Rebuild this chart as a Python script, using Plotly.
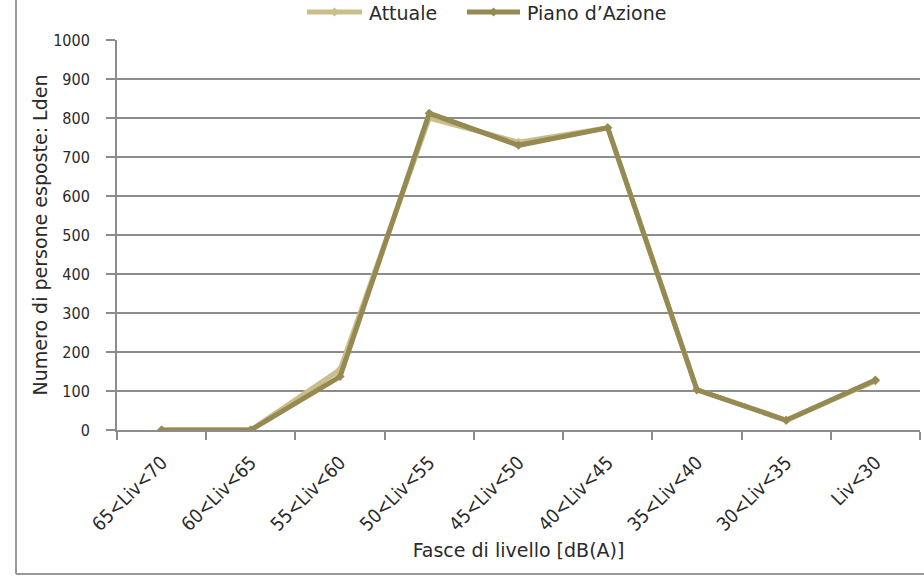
import plotly.graph_objects as go

categories = ["65<Liv<70", "60<Liv<65", "55<Liv<60", "50<Liv<55", "45<Liv<50",
              "40<Liv<45", "35<Liv<40", "30<Liv<35", "Liv<30"]
attuale = [0, 0, 155, 800, 738, 775, 103, 25, 126]
piano = [0, 0, 137, 812, 730, 775, 103, 25, 128]
series_names = ["Attuale", "Piano d\u2019Azione"]
series_colors = ["#c9bf8c", "#958a52"]

W, H = 924, 576
ml, mr, mt, mb = 117, 4, 40, 146
pw = W - ml - mr
ph = H - mt - mb


def px_x(p):
    return (p - ml) / pw


def px_y(p):
    return (H - mb - p) / ph


fig = go.Figure()
for name, vals, col in zip(series_names, [attuale, piano], series_colors):
    fig.add_trace(go.Scatter(x=categories, y=vals, name=name, mode="lines+markers",
                             line=dict(color=col, width=5),
                             marker=dict(symbol="diamond", size=7, color=col),
                             showlegend=False))

# outer frame (left and bottom)
fig.add_shape(type="line", xref="paper", yref="paper",
              x0=px_x(16), x1=px_x(16), y0=px_y(-5), y1=px_y(574),
              line=dict(color="#9a9a9a", width=2))
fig.add_shape(type="line", xref="paper", yref="paper",
              x0=px_x(16), x1=px_x(930), y0=px_y(574), y1=px_y(574),
              line=dict(color="#9a9a9a", width=2))

# custom legend
legend_items = [(307, 362, 367), (467, 520, 525)]
ly = 12
for (x0, x1, tx), name, col in zip(legend_items, series_names, series_colors):
    fig.add_shape(type="line", xref="paper", yref="paper",
                  x0=px_x(x0), x1=px_x(x1), y0=px_y(ly), y1=px_y(ly),
                  line=dict(color=col, width=5))
    cx = (x0 + x1) / 2
    d = 4.5
    path = (f"M{px_x(cx - d)},{px_y(ly)} L{px_x(cx)},{px_y(ly - d)} "
            f"L{px_x(cx + d)},{px_y(ly)} L{px_x(cx)},{px_y(ly + d)} Z")
    fig.add_shape(type="path", xref="paper", yref="paper", path=path,
                  fillcolor=col, line=dict(width=0))
    fig.add_annotation(xref="paper", yref="paper", x=px_x(tx), y=px_y(ly + 1),
                       text=name, showarrow=False, xanchor="left", yanchor="middle",
                       font=dict(family="DejaVu Sans", size=19, color="#2a2a2a"))

fig.update_layout(
    width=W, height=H,
    margin=dict(l=ml, r=mr, t=mt, b=mb),
    paper_bgcolor="white", plot_bgcolor="white",
    font=dict(family="DejaVu Sans Condensed, DejaVu Sans", size=16, color="#2a2a2a"),
    showlegend=False,
    xaxis=dict(type="category", tickson="boundaries", ticks="outside", ticklen=8,
               tickcolor="#8c8c8c", tickwidth=2, showline=True, linecolor="#8c8c8c",
               linewidth=2, showgrid=False, tickangle=-45, range=[-0.5, 8.5],
               ticklabelstandoff=12,
               tickfont=dict(family="DejaVu Sans Condensed", size=19),
               title=dict(text="Fasce di livello [dB(A)]",
                          font=dict(family="DejaVu Sans", size=19), standoff=10)),
    yaxis=dict(range=[0, 1000], dtick=100, ticks="outside", ticklen=9, tickcolor="#8c8c8c",
               tickwidth=2, showline=True, linecolor="#8c8c8c", linewidth=2,
               showgrid=True, gridcolor="#8c8c8c", gridwidth=2, zeroline=False,
               ticklabelstandoff=13,
               tickfont=dict(family="DejaVu Sans Condensed", size=16),
               title=dict(text="Numero di persone esposte: Lden",
                          font=dict(family="DejaVu Sans", size=19), standoff=1)),
)

fig.write_html("out.html", config={"displayModeBar": False},
               post_script="document.body.style.margin='0px';")
